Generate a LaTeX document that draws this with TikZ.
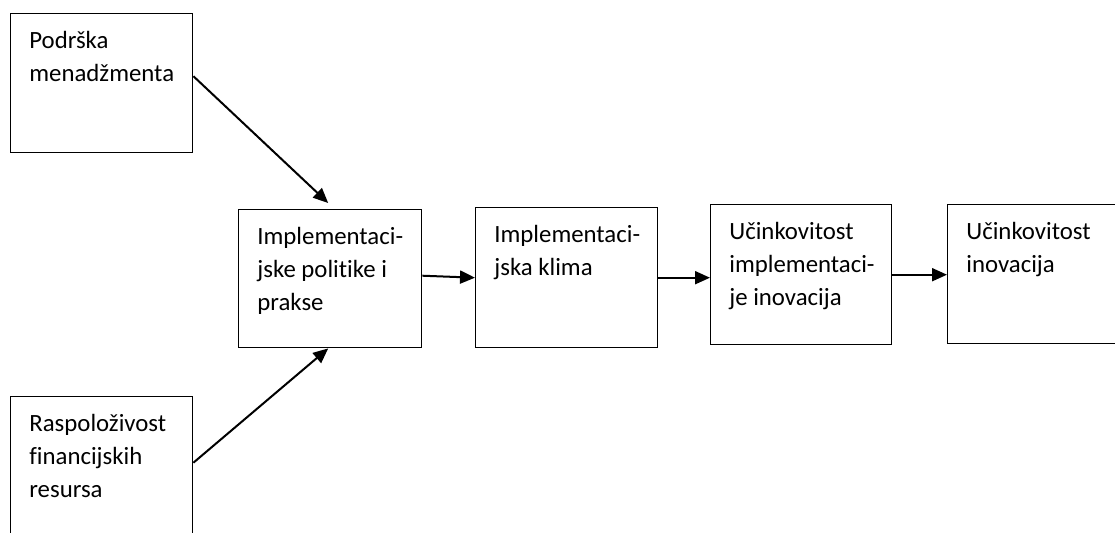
\documentclass[tikz,border=0pt]{standalone}
\usepackage{fontspec}
\setmainfont[Ligatures=NoCommon]{Carlito}
\usetikzlibrary{arrows.meta}
\tikzset{
  blok/.style={rectangle,draw,line width=0.7pt,anchor=north west,inner sep=0pt},
  tekst/.style={anchor=north west,align=left,inner sep=0pt,xshift=9.5pt,yshift=-9pt,
    font=\fontsize{12.4}{16.5}\selectfont},
  strelica/.style={line width=1pt,-{Triangle[length=7.5pt,width=6.5pt]}}
}
\begin{document}
\begin{tikzpicture}[x=0.5pt,y=-0.5pt]
        % Rahmen
        \clip (0,0) rectangle (1115,532);
        % Kutije
        \draw (10,13)  node[blok,minimum width=91pt,minimum height=69.5pt] (podrska) {};
        \draw (10,396) node[blok,minimum width=91pt,minimum height=70pt] (resursi) {};
        \draw (238,209) node[blok,minimum width=91.5pt,minimum height=69pt] (politike) {};
        \draw (475,207) node[blok,minimum width=91pt,minimum height=70pt] (klima) {};
        \draw (710,204) node[blok,minimum width=90.5pt,minimum height=70pt] (ucinkimpl) {};
        \draw (947,204) node[blok,minimum width=88pt,minimum height=69.5pt] (ucinkinov) {};
        % Tekst
        \node[tekst] at (podrska.north west) {Podrška\\menadžmenta};
        \node[tekst] at (resursi.north west) {Raspoloživost\\financijskih\\resursa};
        \node[tekst] at (politike.north west) {Implementaci-\\jske politike i\\prakse};
        \node[tekst] at (klima.north west) {Implementaci-\\jska klima};
        \node[tekst] at (ucinkimpl.north west) {Učinkovitost\\implementaci-\\je inovacija};
        \node[tekst] at (ucinkinov.north west) {Učinkovitost\\inovacija};
        % Strelice
        \draw[strelica] ([yshift=3.5pt]podrska.east) -- ([xshift=-1pt,yshift=3pt]politike.north);
        \draw[strelica] ([yshift=2pt]resursi.east) -- ([xshift=-1pt]politike.south);
        \draw[strelica] ([yshift=1.5pt]politike.east) -- (klima.west);
        \draw[strelica] (klima.east) -- (klima.east -| ucinkimpl.west);
        \draw[strelica] (ucinkimpl.east) -- (ucinkimpl.east -| ucinkinov.west);
\end{tikzpicture}
\end{document}
